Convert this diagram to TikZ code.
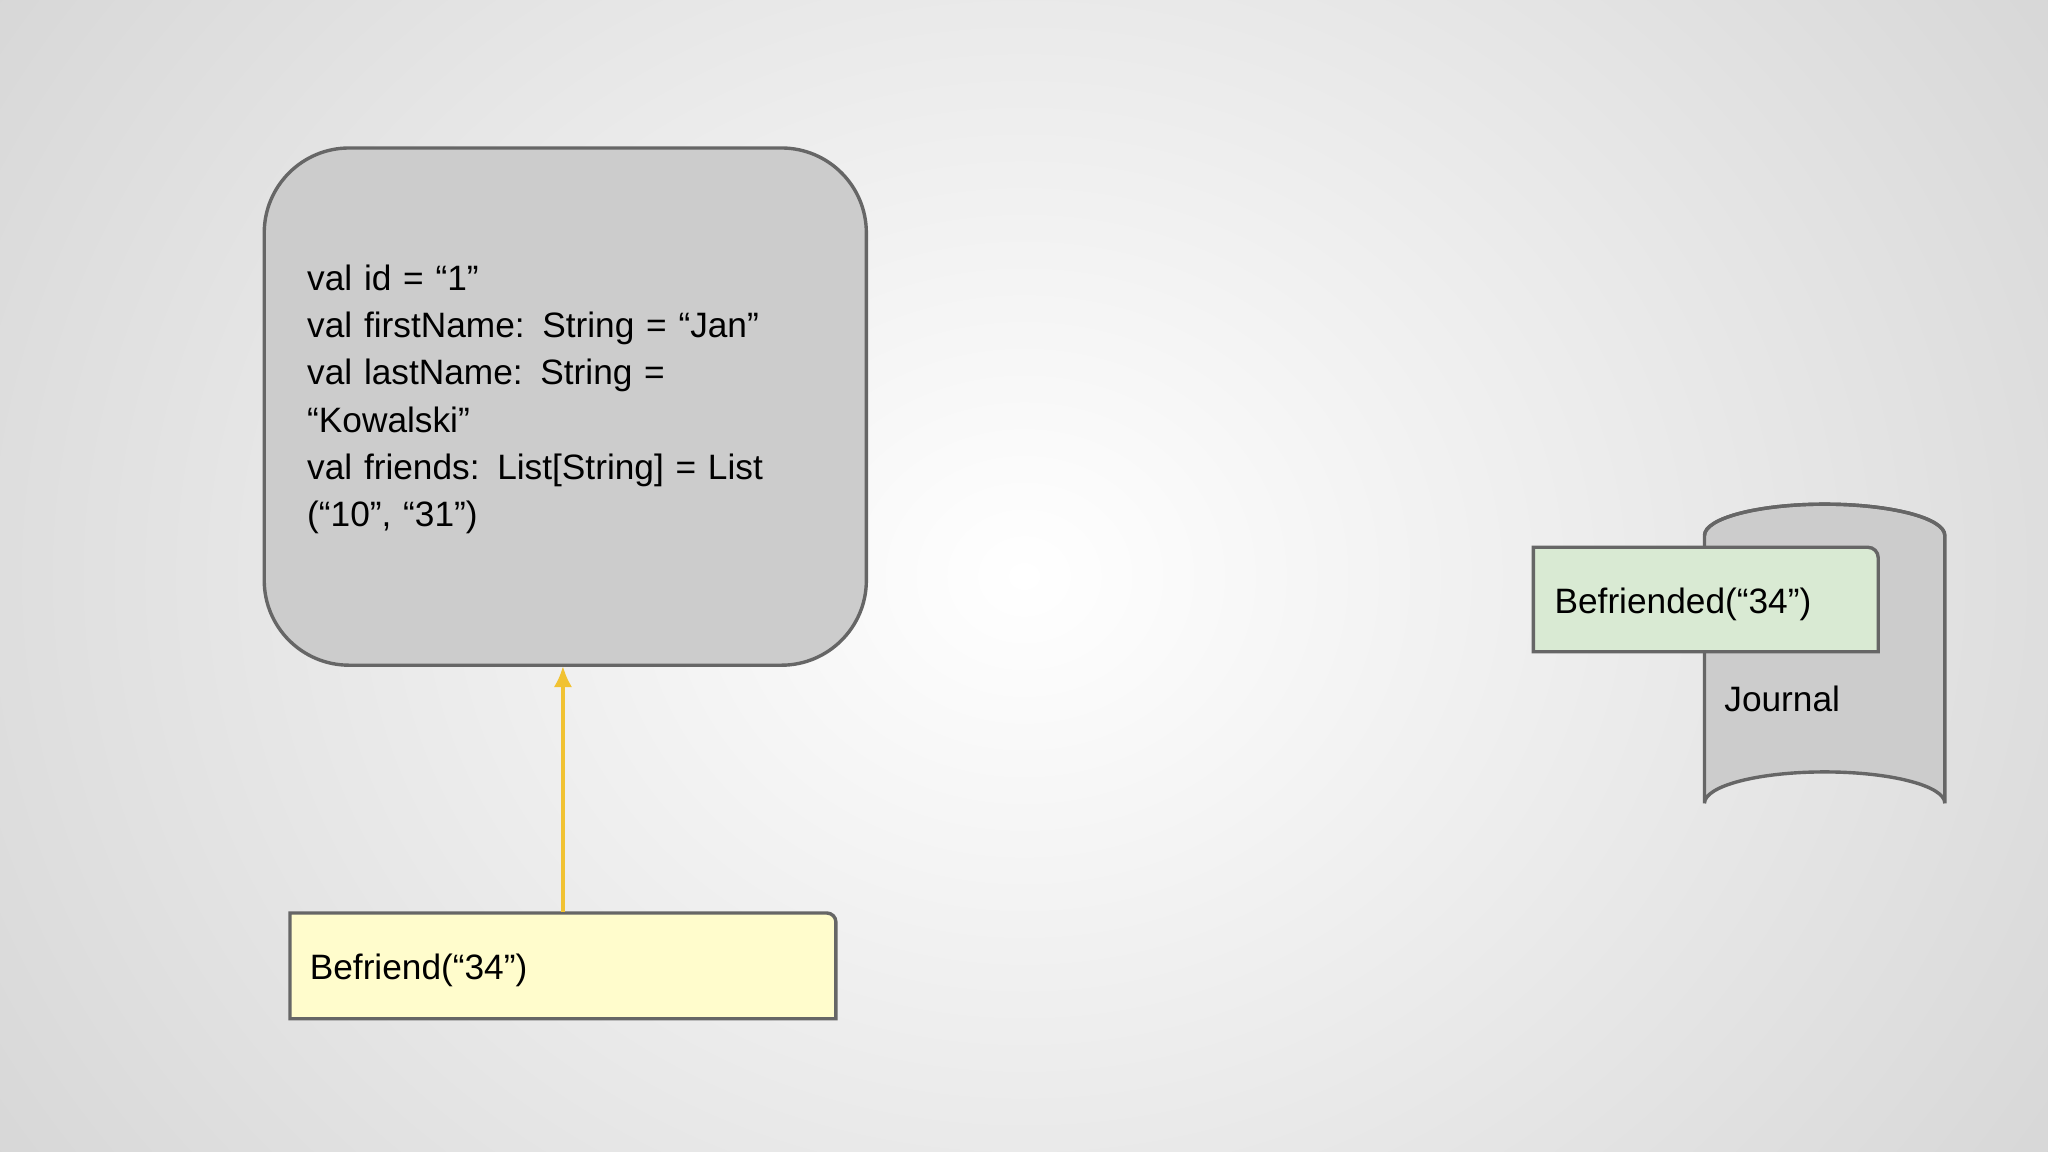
\documentclass[tikz,border=0pt]{standalone}
\usepackage{fontspec}
\setmainfont{Liberation Sans}
\usetikzlibrary{arrows.meta}
\begin{document}
\begin{tikzpicture}[x=1pt,y=-1pt,
  edge/.style={draw=black!60,line width=2.6pt},
  lbl/.style={font=\fontsize{27}{36}\selectfont,inner sep=0pt,anchor=base west}]
\useasboundingbox (0,0) rectangle (1568,882);
\shade[inner color=white,outer color=black!18] (-300,-500) rectangle (1868,1382);
% state box
\node[edge,fill=black!20,rounded corners=65pt,minimum width=461pt,minimum height=396pt,anchor=north west] (state) at (201,112) {};
\node[lbl,align=left,anchor=north west,text width=400pt] (txt) at (235,203) {val id = “1”\\val firstName: String = “Jan”\\val lastName: String =\\“Kowalski”\\val friends: List[String] = List\\(“10”, “31”)};
% command
\draw[edge,fill=yellow!20!white] (222,699) -- (633,699) to[out=0,in=90] (640,706) -- (640,780) -- (222,780) -- cycle;
\coordinate (cmdtop) at (431,698);
\node[lbl] (cmd) at (237,750) {Befriend(“34”)};
\draw[draw={rgb,255:red,241;green,194;blue,50},line width=2.6pt,-{Latex[length=16pt,width=14pt]}] (cmdtop) -- (431,510);
% journal cylinder
\draw[edge,fill=black!20] (1305,410) -- (1305,615) arc[start angle=180,end angle=360,x radius=92,y radius=24] -- (1489,410) arc[start angle=0,end angle=-180,x radius=92,y radius=24];
\draw[edge] (1305,410) arc[start angle=180,end angle=360,x radius=92,y radius=24];
\node[lbl] (journal) at (1320,545) {Journal};
% event
\draw[edge,fill={rgb,255:red,217;green,234;blue,211}] (1174,419) -- (1430,419) to[out=0,in=90] (1438,427) -- (1438,499) -- (1174,499) -- cycle;
\node[lbl] (evt) at (1190,470) {Befriended(“34”)};
\end{tikzpicture}
\end{document}
